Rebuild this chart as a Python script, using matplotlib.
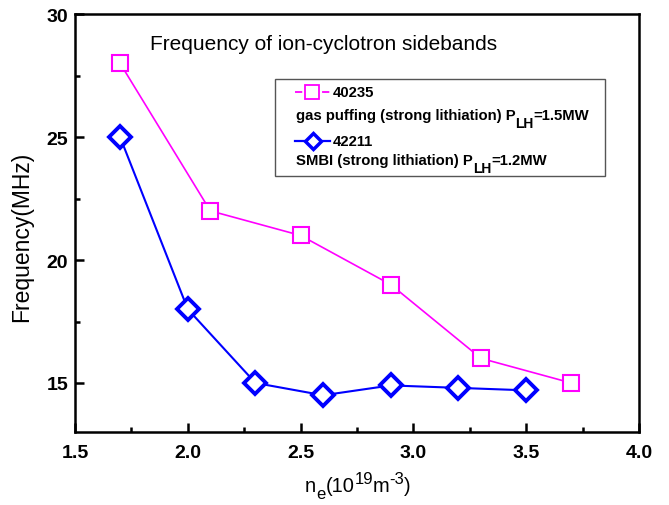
import matplotlib
matplotlib.use("Agg")
import matplotlib.pyplot as plt
from matplotlib.lines import Line2D
from matplotlib.patches import Rectangle
from matplotlib.ticker import MultipleLocator

plt.rcParams['font.family'] = ['Liberation Sans', 'DejaVu Sans']

x1 = [1.7, 2.1, 2.5, 2.9, 3.3, 3.7]
y1 = [28, 22, 21, 19, 16, 15]
x2 = [1.7, 2.0, 2.3, 2.6, 2.9, 3.2, 3.5]
y2 = [25, 18, 15, 14.5, 14.9, 14.8, 14.7]
label1 = "40235"
desc1 = ["gas puffing (strong lithiation) P", "LH", "=1.5MW"]
label2 = "42211"
desc2 = ["SMBI (strong lithiation) P", "LH", "=1.2MW"]
xticks = [1.5, 2.0, 2.5, 3.0, 3.5, 4.0]
yticks = [15, 20, 25, 30]
title = "Frequency of ion-cyclotron sidebands"
ylabel = "Frequency(MHz)"
# x label pieces: (text, vertical offset in points, fontsize)
xlabel_parts = [("n", 0, 14.5), ("e", -4.5, 12), ("(10", 0, 14.5), ("19", 6.5, 12),
                ("m", 0, 14.5), ("-3", 6.5, 12), (")", 0, 14.5)]

fig = plt.figure(figsize=(6.69, 5.06), dpi=100)
ax = fig.add_axes([0.1121, 0.144, 0.843, 0.826])

c1 = '#ff00ff'
c2 = '#0000ff'
ax.plot(x1, y1, color=c1, lw=1.2, marker='s', ms=11.5, mfc='white', mec=c1, mew=1.5, zorder=3)
ax.plot(x2, y2, color=c2, lw=1.5, marker='D', ms=11.5, mfc='white', mec=c2, mew=2.8, zorder=3)

ax.set_xlim(1.5, 4.0)
ax.set_ylim(13, 30)
ax.set_xticks(xticks)
ax.set_yticks(yticks)
ax.set_xticklabels([f"{v:.1f}" for v in xticks], fontweight='bold', fontsize=14)
ax.set_yticklabels([str(v) for v in yticks], fontweight='bold', fontsize=14)
ax.xaxis.set_minor_locator(MultipleLocator(0.25))
ax.yaxis.set_minor_locator(MultipleLocator(2.5))
ax.tick_params(which='major', direction='in', length=6.5, width=1.8)
ax.tick_params(axis='x', which='major', pad=8.5)
ax.tick_params(axis='y', which='major', pad=5)
ax.tick_params(which='minor', direction='in', length=3.6, width=1.8)
for s in ax.spines.values():
    s.set_linewidth(1.8)

ax.set_ylabel(ylabel, fontsize=16.5)
ax.yaxis.set_label_coords(-0.0745, 0.47)

ax.text(0.441, 0.931, title, transform=ax.transAxes,
        ha='center', va='center', fontsize=15)

tr = fig.transFigure
fw, fh = 669, 506
def fx(px): return px / fw
def fy(py): return 1 - py / fh

# x label built from pieces
prev = fig.text(fx(305), fy(492), xlabel_parts[0][0], fontsize=xlabel_parts[0][2],
                va='baseline', ha='left')
base = prev
for txt, dy, fs in xlabel_parts[1:]:
    prev = ax.annotate(txt, xy=(1, 0), xycoords=(prev, base), xytext=(0, dy),
                       textcoords='offset points', fontsize=fs, va='bottom', ha='left',
                       annotation_clip=False)

# legend box
fig.patches.append(Rectangle((fx(275), fy(177)), fx(605) - fx(275), fy(80) - fy(177),
                             transform=tr, fill=False, edgecolor='#555555', lw=1.0))
fig.lines.append(Line2D([fx(295), fx(330)], [fy(93), fy(93)], transform=tr, color=c1, lw=1.3,
                        ls=(0, (4, 11))))
fig.lines.append(Line2D([fx(312)], [fy(93)], transform=tr, color=c1, marker='s', ms=10,
                        mfc='white', mec=c1, mew=1.3, ls='none'))
fig.text(fx(333), fy(93), label1, fontsize=10.7, fontweight='bold', va='center', ha='left')
fig.lines.append(Line2D([fx(295), fx(330)], [fy(142), fy(142)], transform=tr, color=c2, lw=1.6))
fig.lines.append(Line2D([fx(313)], [fy(142)], transform=tr, color=c2, marker='D', ms=8.5,
                        mfc='white', mec=c2, mew=2.5, ls='none'))
fig.text(fx(333), fy(142), label2, fontsize=10.7, fontweight='bold', va='center', ha='left')


def rich(ypx, parts):
    t1 = fig.text(fx(296), fy(ypx), parts[0], fontsize=10.7, fontweight='bold',
                  va='baseline', ha='left')
    t2 = ax.annotate(parts[1], xy=(1, 0), xycoords=t1, xytext=(0, -3.5),
                     textcoords='offset points', fontsize=10, fontweight='bold',
                     va='baseline', ha='left', annotation_clip=False)
    ax.annotate(parts[2], xy=(1, 0), xycoords=(t2, t1), fontsize=10.7, fontweight='bold',
                va='bottom', ha='left', annotation_clip=False)


rich(120, desc1)
rich(165, desc2)

fig.savefig("out.png", dpi=100)
